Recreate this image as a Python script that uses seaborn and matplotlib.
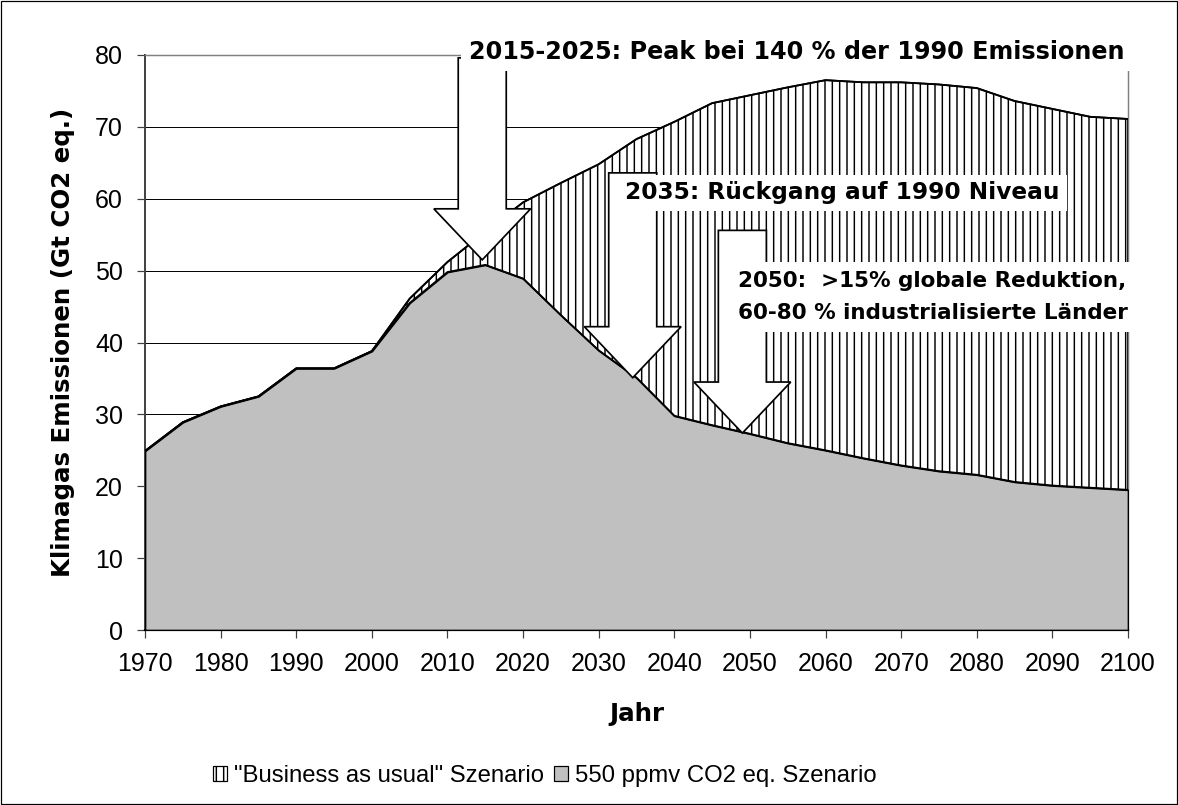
import matplotlib
matplotlib.use("Agg")
import matplotlib.pyplot as plt
import seaborn as sns
from matplotlib.patches import FancyArrow, Patch, Rectangle

# ---------------- data ----------------
years = list(range(1970, 2101, 5))
bau = [24.9, 28.9, 31.1, 32.5, 36.4, 36.4, 38.8, 46.1, 51.2, 55.4, 59.5, 62.2,
       64.8, 68.3, 70.7, 73.3, 74.4, 75.5, 76.5, 76.2, 76.2, 75.9, 75.4, 73.6,
       72.5, 71.4, 71.1]
s550 = [24.9, 28.9, 31.1, 32.5, 36.4, 36.4, 38.8, 45.5, 49.8, 50.8, 48.9, 43.8,
        38.9, 35.1, 29.8, 28.5, 27.3, 26.0, 25.0, 23.9, 22.9, 22.1, 21.6, 20.6,
        20.1, 19.8, 19.5]
series_labels = ['"Business as usual" Szenario', '550 ppmv CO2 eq. Szenario']
xticks = list(range(1970, 2101, 10))
yticks = list(range(0, 81, 10))

ann_texts = ["2015-2025: Peak bei 140 % der 1990 Emissionen",
             "2035: Rückgang auf 1990 Niveau",
             "2050:  >15% globale Reduktion,\n60-80 % industrialisierte Länder"]
ann_x = [2012.8, 2033.5, 2048.4]
ann_y = [80.4, 60.8, 46.3]
ann_size = [19.5, 19.0, 17.6]
ann_pad = [0.3, 0.3, 0.42]
ann_linespacing = [1.2, 1.2, 1.72]
arrow_x = [2014.6, 2034.5, 2049.0]
arrow_tip = [51.5, 35.1, 27.4]
arrow_top = [79.6, 63.6, 55.6]

# ---------------- style ----------------
DPI = 88
sns.set_theme(style="white")
plt.rcParams["font.family"] = ["Liberation Sans", "DejaVu Sans"]
plt.rcParams["text.color"] = "black"
plt.rcParams["axes.labelcolor"] = "black"
plt.rcParams["xtick.color"] = "black"
plt.rcParams["ytick.color"] = "black"
plt.rcParams["hatch.color"] = "black"
plt.rcParams["hatch.linewidth"] = 1.2

fig = plt.figure(figsize=(1178 / DPI, 805 / DPI), dpi=DPI)
ax = fig.add_axes([145 / 1178, 1 - 630 / 805, 983 / 1178, 575 / 805])
ax.set_facecolor("white")

# grid
ax.set_axisbelow(True)
ax.grid(axis="y", color="black", linewidth=0.8)
ax.grid(axis="x", visible=False)

# areas
ax.fill_between(years, 0, bau, facecolor="white", edgecolor="black",
                hatch="||", linewidth=1.4, zorder=3)
ax.fill_between(years, 0, s550, facecolor="#c0c0c0", edgecolor="black",
                linewidth=1.4, zorder=3.5)
sns.lineplot(x=years, y=bau, color="black", linewidth=1.5, ax=ax, zorder=4)
sns.lineplot(x=years, y=s550, color="black", linewidth=1.5, ax=ax, zorder=4)

# axes ranges / ticks
ax.set_xlim(1970, 2100)
ax.set_ylim(0, 80)
ax.set_xticks(xticks)
ax.set_yticks(yticks)
ax.tick_params(axis="both", which="major", direction="out", length=6.5,
               width=1.0, color="#404040", labelsize=20.5, pad=11.5,
               labelcolor="black", left=True, bottom=True)

for side in ["top", "right"]:
    ax.spines[side].set_color("#808080")
    ax.spines[side].set_linewidth(1.2)
ax.spines["left"].set_color("#404040")
ax.spines["left"].set_linewidth(1.6)
ax.spines["bottom"].set_color("black")
ax.spines["bottom"].set_linewidth(1.8)

# axis titles
ax.set_ylabel("Klimagas Emissionen (Gt CO2 eq.)", fontfamily="DejaVu Sans",
              fontweight="bold", fontsize=20)
ax.yaxis.set_label_coords((63 - 145) / 983, 0.5)
ax.yaxis.label.set_va("center")
ax.set_xlabel("Jahr", fontfamily="DejaVu Sans", fontweight="bold", fontsize=20)
ax.xaxis.set_label_coords(0.5, (630 - 714) / 575)
ax.xaxis.label.set_va("center")

# block arrows
for xa, tip, top in zip(arrow_x, arrow_tip, arrow_top):
    arr = FancyArrow(xa, top, 0, tip - top, width=6.35, head_width=12.8,
                     head_length=7.1, length_includes_head=True,
                     facecolor="white", edgecolor="black", linewidth=1.4,
                     zorder=5)
    ax.add_patch(arr)

# annotation texts
for txt, tx, ty, fs, pd_, ls in zip(ann_texts, ann_x, ann_y, ann_size,
                                    ann_pad, ann_linespacing):
    ax.text(tx, ty, txt, ha="left", va="center", fontfamily="DejaVu Sans",
            fontweight="bold", fontsize=fs, linespacing=ls, zorder=6,
            color="black", clip_on=False,
            bbox=dict(boxstyle=f"square,pad={pd_}", facecolor="white",
                      edgecolor="none"))

# legend
handles = [Patch(facecolor="white", edgecolor="black", hatch="||", linewidth=1.0),
           Patch(facecolor="#c0c0c0", edgecolor="black", linewidth=1.0)]
fig.legend(handles, series_labels, loc="center",
           bbox_to_anchor=(545 / 1178, 1 - 776 / 805), ncol=2, frameon=False,
           fontsize=19.5, handlelength=0.6, handleheight=0.6,
           handletextpad=0.3, columnspacing=0.4)

# chart border
fig.patches.append(Rectangle((0.0005, 0.0008), 0.999, 0.9985,
                             transform=fig.transFigure, fill=False,
                             edgecolor="black", linewidth=1.0))

fig.savefig("out.png", dpi=DPI, facecolor="white")
